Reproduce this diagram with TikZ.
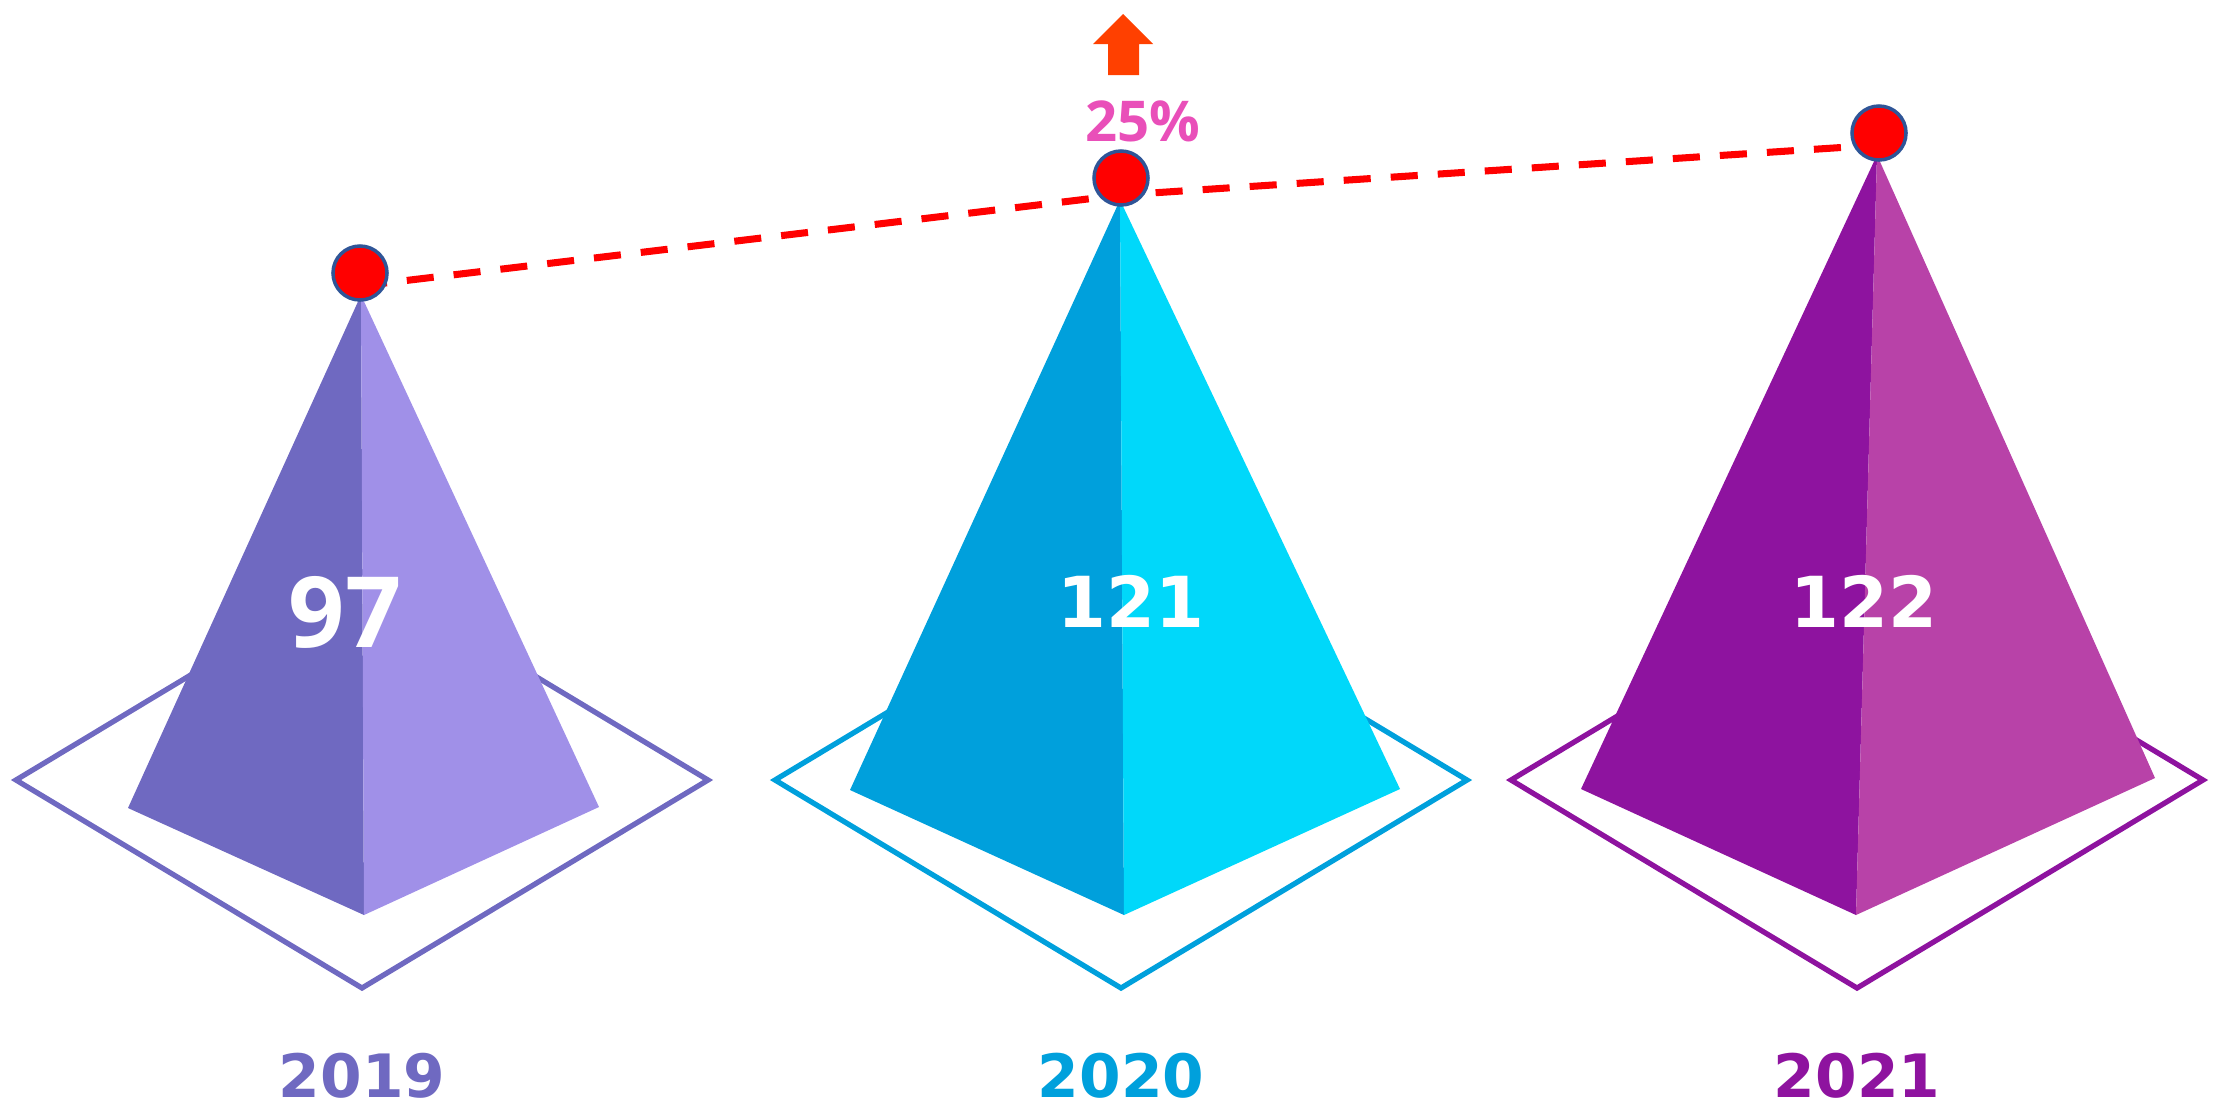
\documentclass[tikz,border=0pt]{standalone}
\usepackage{fontspec}
\setmainfont{DejaVu Sans}
\newfontfamily\opensans{Open Sans}
\definecolor{pyrdark1}{HTML}{6F69C1}
\definecolor{pyrlight1}{HTML}{A090E8}
\definecolor{pyrdark2}{HTML}{00A0DC}
\definecolor{pyrlight2}{HTML}{00D8FA}
\definecolor{pyrdark3}{HTML}{8E139F}
\definecolor{pyrlight3}{HTML}{B842A8}
\definecolor{trendred}{HTML}{FF0000}
\definecolor{rimblue}{HTML}{2F5597}
\definecolor{uporange}{HTML}{FF4000}
\definecolor{pctpink}{HTML}{E94FB9}
\begin{document}
\begin{tikzpicture}[x=0.01cm, y=-0.01cm,
    value/.style={text=white, font=\bfseries\fontsize{20}{22}\selectfont, inner sep=0pt},
    yearlabel/.style={font=\bfseries\fontsize{17}{19}\selectfont, inner sep=0pt},
    dot/.style={circle, fill=trendred, draw=rimblue, line width=1pt, minimum size=0.54cm, inner sep=0pt}]
    \useasboundingbox (0,0) rectangle (2221,1108);
    \foreach \i/\cx/\ax/\ay/\lx/\ly/\bx/\rx/\ry/\year in {
        1/362/361/295/128/808/364/599/807/2019,
        2/1121/1120/200/850/790/1124/1400/789/2020,
        3/1857/1877/155/1581/789/1856/2155/778/2021
    } {
        \draw[pyrdark\i, line width=1.5pt] (\cx-346,780) -- (\cx,572) -- (\cx+346,780) -- (\cx,988) -- cycle;
        \fill[pyrdark\i] (\ax,\ay) -- (\lx,\ly) -- (\bx,915) -- cycle;
        \fill[pyrlight\i] (\ax,\ay) -- (\rx,\ry) -- (\bx,915) -- cycle;
        \node[yearlabel, text=pyrdark\i] (year\i) at (\cx,1076) {\year};
    }
    \node[value, font=\opensans\bfseries\fontsize{28}{30}\selectfont] (val1) at (345,612) {97};
    \node[value] (val2) at (1131,601) {121};
    \node[value] (val3) at (1864,601) {122};
    % trend line
    \coordinate (p1) at (360,286);
    \coordinate (p2) at (1121,195);
    \coordinate (p3) at (1879,145);
    \draw[trendred, line width=2pt, dash pattern=on 7.7pt off 5.7pt] (p1) -- (p2) -- (p3);
    \node[dot] (c1) at (360,273) {};
    \node[dot] (c2) at (1121,178) {};
    \node[dot] (c3) at (1879,133) {};
    % growth
    \fill[uporange] (1123,14) -- (1153,44) -- (1139,44) -- (1139,75) -- (1108,75) -- (1108,44) -- (1093,44) -- cycle;
    \node[font=\opensans\bfseries\fontsize{16}{18}\selectfont, text=pctpink, inner sep=0pt] (pct) at (1143,121) {25\%};
\end{tikzpicture}
\end{document}
